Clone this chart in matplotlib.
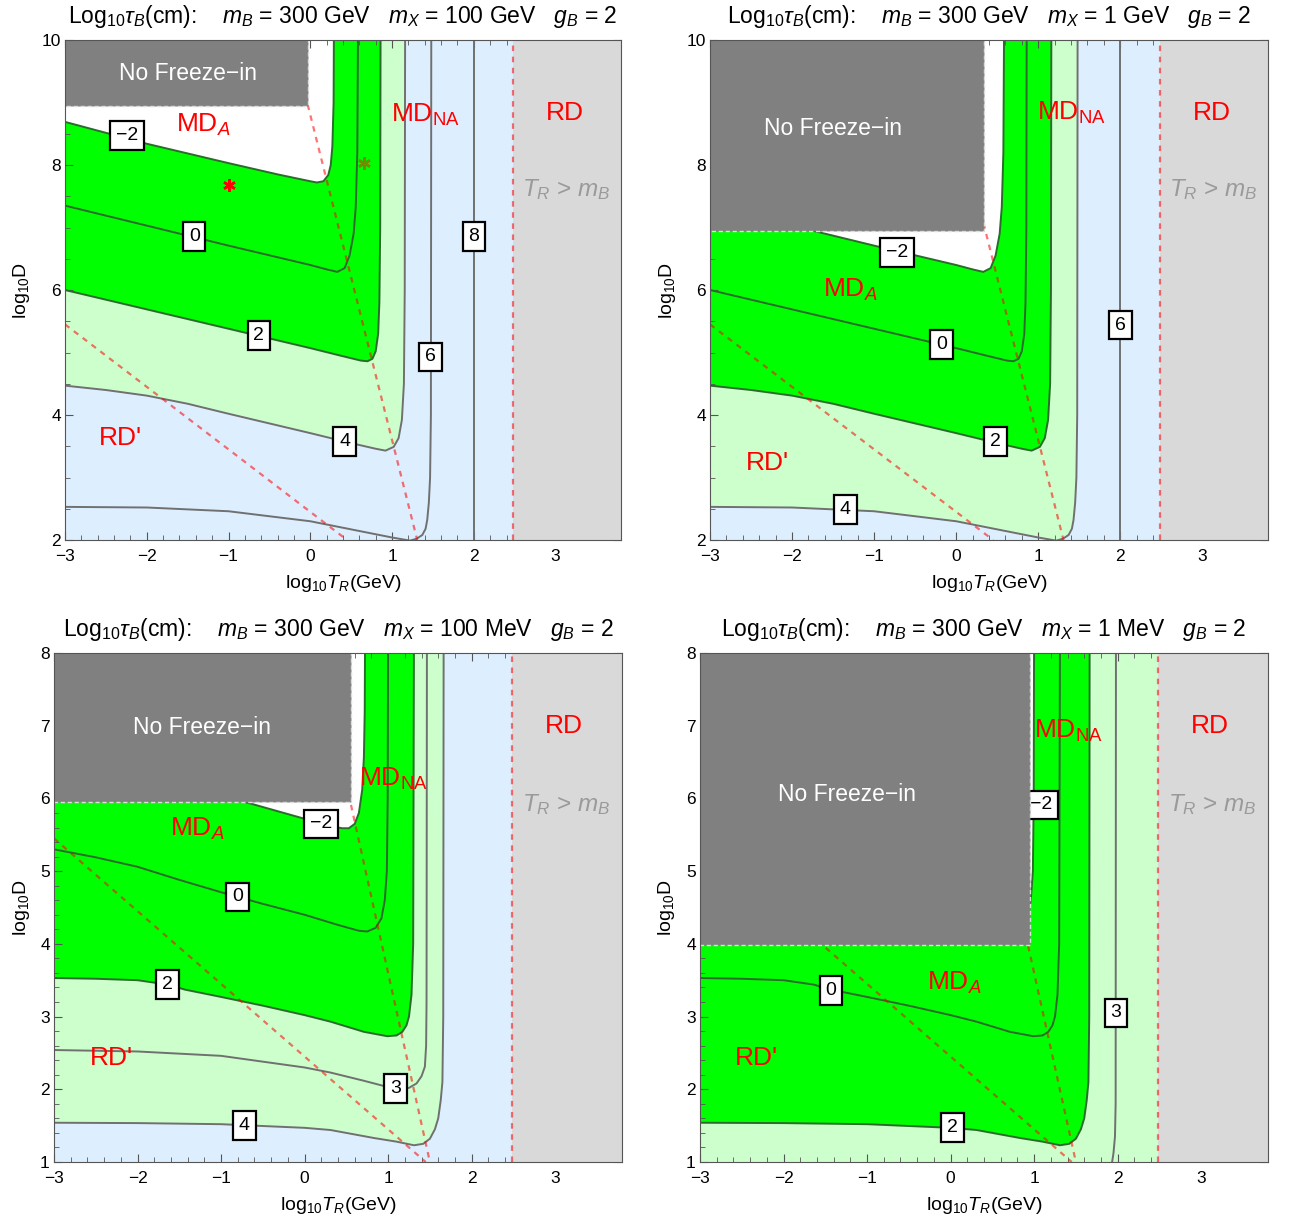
import matplotlib
matplotlib.use('Agg')
import matplotlib.pyplot as plt
from matplotlib.patches import Polygon, Rectangle
from matplotlib.ticker import MultipleLocator

plt.rcParams['font.family'] = ['Liberation Sans', 'DejaVu Sans']
plt.rcParams['mathtext.fontset'] = 'custom'
plt.rcParams['mathtext.rm'] = 'Liberation Sans'
plt.rcParams['mathtext.it'] = 'Liberation Sans:italic'
plt.rcParams['mathtext.bf'] = 'Liberation Sans:bold'

# contours of log10(tau_B / cm)
# x = log10 T_R (GeV), y = log10 D ; left branch -> corner -> vertical branch
# upper row (mX = 100 GeV, 1 GeV) share the shapes, levels shifted by 2
up_a_x = [-3, -2, -1, -0.4, 0, 0.08, 0.16, 0.22, 0.25, 0.27, 0.285, 0.29]
up_a_y = [8.69, 8.34, 8.03, 7.85, 7.74, 7.72, 7.74, 7.84, 8.0, 8.3, 9.0, 10.5]
up_b_x = [-3, -2, -1, 0, 0.2, 0.33, 0.42, 0.48, 0.53, 0.556, 0.575, 0.585]
up_b_y = [7.35, 7.03, 6.71, 6.40, 6.33, 6.29, 6.35, 6.55, 6.9, 7.33, 8.2, 10.5]
up_c_x = [-3, -2, -1, 0, 0.4, 0.62, 0.7, 0.76, 0.8, 0.83, 0.845, 0.855, 0.86]
up_c_y = [6.0, 5.69, 5.38, 5.07, 4.94, 4.87, 4.86, 4.9, 5.02, 5.3, 5.8, 7.0, 10.5]
up_d_x = [-3, -2.5, -2, -1.5, -1, 0, 0.5, 0.8, 0.92, 1.02, 1.08, 1.12, 1.145, 1.155, 1.16]
up_d_y = [4.47, 4.40, 4.31, 4.18, 4.02, 3.71, 3.55, 3.46, 3.43, 3.49, 3.63, 3.92, 4.5, 6.0, 10.5]
up_e_x = [-3, -2, -1, 0, 0.5, 1.0, 1.22, 1.3, 1.37, 1.41, 1.43, 1.45, 1.465, 1.475, 1.48]
up_e_y = [2.53, 2.52, 2.46, 2.30, 2.17, 2.04, 1.99, 2.02, 2.08, 2.18, 2.32, 2.6, 3.0, 4.0, 10.5]
up_f_x = [2.0, 2.0]
up_f_y = [1.5, 10.5]

# lower row (mX = 100 MeV, 1 MeV)
lo_a_x = [-3, -1.5, -0.71, 0, 0.3, 0.45, 0.53, 0.6, 0.65, 0.69, 0.71, 0.72, 0.725]
lo_a_y = [6.64, 6.2, 5.95, 5.72, 5.62, 5.59, 5.59, 5.65, 5.8, 6.12, 6.57, 7.2, 8.5]
lo_b_x = [-3, -2.5, -2, -1.5, -1, -0.5, 0, 0.4, 0.65, 0.75, 0.85, 0.92, 0.96, 0.985, 0.995, 1.0]
lo_b_y = [5.30, 5.19, 5.06, 4.88, 4.71, 4.55, 4.40, 4.26, 4.18, 4.17, 4.22, 4.35, 4.6, 5.0, 6.0, 8.5]
lo_c_x = [-3, -2.5, -2, -1.64, -1.43, -1, -0.5, 0, 0.31, 0.71, 0.99, 1.1, 1.17, 1.22, 1.25, 1.28, 1.30, 1.31]
lo_c_y = [3.53, 3.52, 3.50, 3.44, 3.37, 3.27, 3.15, 3.02, 2.93, 2.79, 2.73, 2.74, 2.79, 2.88, 3.0, 3.3, 4.0, 8.5]
lo_d_x = [-3, -2, -1, 0, 0.31, 0.7, 1.0, 1.15, 1.25, 1.34, 1.40, 1.44, 1.455, 1.46, 1.465]
lo_d_y = [2.54, 2.52, 2.46, 2.30, 2.23, 2.12, 2.03, 2.0, 2.02, 2.08, 2.18, 2.31, 2.6, 3.2, 8.5]
lo_e_x = [-3, -2, -1, 0, 0.31, 0.83, 1.10, 1.31, 1.42, 1.50, 1.56, 1.60, 1.63, 1.65, 1.66, 1.665]
lo_e_y = [1.54, 1.535, 1.52, 1.47, 1.44, 1.33, 1.28, 1.23, 1.25, 1.32, 1.45, 1.6, 1.85, 2.1, 3.0, 8.5]
lo_f_x = [1.92, 1.95, 1.968, 1.976, 1.98]
lo_f_y = [0.9, 1.12, 1.35, 1.8, 8.5]

mx_names = ['100 GeV', '1 GeV', '100 MeV', '1 MeV']
levels_1 = [-2, 0, 2, 4, 6, 8]
levels_2 = [-2, 0, 2, 4, 6]
levels_3 = [-2, 0, 2, 3, 4]
levels_4 = [-2, 0, 2, 3]

# "No Freeze-in" corner: (right edge, bottom edge)
nofi_1 = (-0.03, 8.94)
nofi_2 = (0.345, 6.95)
nofi_3 = (0.55, 5.95)
nofi_4 = (0.95, 3.98)

# boundaries: RD'/MD (intercept, slope), MD_A/MD_NA, T_R = m_B
rdp_line = (2.45, -1.0)
mdna_line = (8.8, -5.2)
tr_mb = 2.48

GREEN = '#00ff00'
LGREEN = '#ccffcc'
LBLUE = '#ddeeff'
LINE_G = '#2b6b2b'
LINE_K = '#707070'
FRAME = '#555555'


def band(t):
    if t < -2:
        return 'white'
    if t < 2:
        return GREEN
    if t < 4:
        return LGREEN
    return LBLUE


panels = [
    dict(rect=(65, 40, 556, 500), ylim=(2, 10), ymaj=2, ymin=0.5, box=nofi_1,
         curves=list(zip(levels_1, [(up_a_x, up_a_y), (up_b_x, up_b_y), (up_c_x, up_c_y),
                                    (up_d_x, up_d_y), (up_e_x, up_e_y), (up_f_x, up_f_y)])),
         labs=[(-2.24, 8.47), (-1.42, 6.86), (-0.63, 5.27), (0.42, 3.58), (1.47, 4.93), (2.0, 6.86)],
         nofi_txt=(-1.5, 9.46), mda=(-1.31, 8.64), mdna=(1.41, 8.8), rdp=(-2.32, 3.63),
         rd=(3.11, 8.83), trmb=(3.13, 7.6)),
    dict(rect=(710, 40, 558, 500), ylim=(2, 10), ymaj=2, ymin=0.5, box=nofi_2,
         curves=list(zip(levels_2, [(up_b_x, up_b_y), (up_c_x, up_c_y), (up_d_x, up_d_y),
                                    (up_e_x, up_e_y), (up_f_x, up_f_y)])),
         labs=[(-0.72, 6.6), (-0.18, 5.13), (0.48, 3.58), (-1.35, 2.49), (2.0, 5.44)],
         nofi_txt=(-1.5, 8.59), mda=(-1.29, 6.0), mdna=(1.41, 8.83), rdp=(-2.3, 3.23),
         rd=(3.11, 8.83), trmb=(3.13, 7.6)),
    dict(rect=(54, 653, 568, 509), ylim=(1, 8), ymaj=1, ymin=0.2, box=nofi_3,
         curves=list(zip(levels_3, [(lo_a_x, lo_a_y), (lo_b_x, lo_b_y), (lo_c_x, lo_c_y),
                                    (lo_d_x, lo_d_y), (lo_e_x, lo_e_y)])),
         labs=[(0.2, 5.65), (-0.8, 4.645), (-1.64, 3.44), (1.09, 2.01), (-0.72, 1.505)],
         nofi_txt=(-1.23, 6.98), mda=(-1.29, 5.58), mdna=(1.06, 6.27), rdp=(-2.31, 2.43),
         rd=(3.11, 7.0), trmb=(3.13, 5.91)),
    dict(rect=(700, 653, 568, 509), ylim=(1, 8), ymaj=1, ymin=0.2, box=nofi_4,
         curves=list(zip(levels_4, [(lo_b_x, lo_b_y), (lo_c_x, lo_c_y), (lo_e_x, lo_e_y),
                                    (lo_f_x, lo_f_y)])),
         labs=[(1.08, 5.91), (-1.43, 3.36), (0.02, 1.47), (1.98, 3.05)],
         nofi_txt=(-1.24, 6.06), mda=(0.05, 3.46), mdna=(1.41, 6.93), rdp=(-2.32, 2.43),
         rd=(3.11, 7.0), trmb=(3.13, 5.91)),
]

W, H = 1291, 1224
fig = plt.figure(figsize=(W / 100, H / 100), dpi=100)
xlo, xhi = -3, 3.8

for p, mx in zip(panels, mx_names):
    l, t, w, h = p['rect']
    ax = fig.add_axes([l / W, 1 - (t + h) / H, w / W, h / H])
    y0, y1 = p['ylim']
    ax.set_xlim(xlo, xhi)
    ax.set_ylim(y0, y1)

    levs = [c[0] for c in p['curves']]
    ax.set_facecolor(band(max(levs) + 0.01))
    shapes = dict(p['curves'])
    for b in [4, 2, -2]:
        if b in shapes:
            xs, ys = shapes[b]
            pts = list(zip(xs, ys)) + [(xlo - 1, ys[-1]), (xlo - 1, ys[0])]
            ax.add_patch(Polygon(pts, closed=True, fc=band(b - 0.01), ec='none', zorder=1))

    for (lev, (xs, ys)), (lx, ly) in zip(p['curves'], p['labs']):
        ax.plot(xs, ys, color=LINE_G if lev <= 2 else LINE_K, lw=1.4, zorder=2)
        txt = '\u2212%d' % -lev if lev < 0 else '%d' % lev
        ax.text(lx, ly, txt, ha='center', va='center', fontsize=14, zorder=6,
                bbox=dict(boxstyle='square,pad=0.3', fc='white', ec='black', lw=1.6))

    # regime boundaries
    ax.axline((0, rdp_line[0]), slope=rdp_line[1], color='red', alpha=0.55, lw=1.6,
              ls=(0, (2.5, 2.5)), zorder=3)
    ax.axline((0, mdna_line[0]), slope=mdna_line[1], color='red', alpha=0.55, lw=1.6,
              ls=(0, (2.5, 2.5)), zorder=3)
    ax.add_patch(Rectangle((tr_mb, y0), xhi - tr_mb, y1 - y0, fc='#d9d9d9', ec='none', zorder=4))
    ax.axvline(tr_mb, color='red', alpha=0.55, lw=1.6, ls=(0, (2.5, 2.5)), zorder=5)

    bx, by = p['box']
    ax.add_patch(Rectangle((xlo - 1, by), bx - xlo + 1, y1 - by + 1, fc='#808080', ec='#dddddd',
                           lw=1.0, ls=(0, (3, 2)), zorder=7))
    ax.text(*p['nofi_txt'], 'No Freeze\u2212in', color='white', fontsize=16.5,
            ha='center', va='center', zorder=8)

    red = dict(color='red', fontsize=19, ha='center', va='center', zorder=8)
    ax.text(*p['mda'], r'MD$_A$', **red)
    ax.text(*p['mdna'], r'MD$_{\mathrm{NA}}$', **red)
    ax.text(*p['rdp'], "RD'", **red)
    ax.text(*p['rd'], 'RD', **red)
    ax.text(*p['trmb'], r'$T_R$ > $m_B$', color='#9a9a9a', fontsize=17.5, ha='center',
            va='center', zorder=8)

    if mx == '100 GeV':
        ax.plot(-1.0, 7.68, marker=(6, 2, 0), ms=9, mew=1.8, color='red', zorder=8)
        ax.plot(0.66, 8.03, marker=(6, 2, 0), ms=9, mew=1.8, color='red', alpha=0.45, zorder=8)

    ax.set_title(r'$\mathrm{Log}_{10}\tau_B$(cm):    $m_B$ = 300 GeV   $m_X$ = %s   $g_B$ = 2' % mx,
                 fontsize=16.5, pad=12)
    ax.set_xlabel(r'$\mathrm{log}_{10}T_R$(GeV)', fontsize=14)
    ax.set_ylabel(r'$\mathrm{log}_{10}$D', fontsize=14)
    ax.xaxis.set_label_coords(0.5, -43 / h)
    ax.xaxis.label.set_va('center')
    ax.yaxis.set_label_coords((22 - l if l < 600 else 667 - l) / w, 0.5)
    ax.yaxis.label.set_va('center')

    ax.xaxis.set_major_locator(MultipleLocator(1))
    ax.xaxis.set_minor_locator(MultipleLocator(0.2))
    ax.yaxis.set_major_locator(MultipleLocator(p['ymaj']))
    ax.yaxis.set_minor_locator(MultipleLocator(p['ymin']))
    ax.tick_params(which='both', direction='in', top=True, right=True, color=FRAME,
                   labelsize=12.5, zorder=9)
    ax.tick_params(which='major', length=6, width=0.8)
    ax.tick_params(which='minor', length=3.5, width=0.6)
    ax.tick_params(axis='x', pad=6.5)
    ax.tick_params(axis='y', pad=3)
    for s in ax.spines.values():
        s.set_color(FRAME)
        s.set_zorder(10)

fig.savefig('out.png', dpi=100)
